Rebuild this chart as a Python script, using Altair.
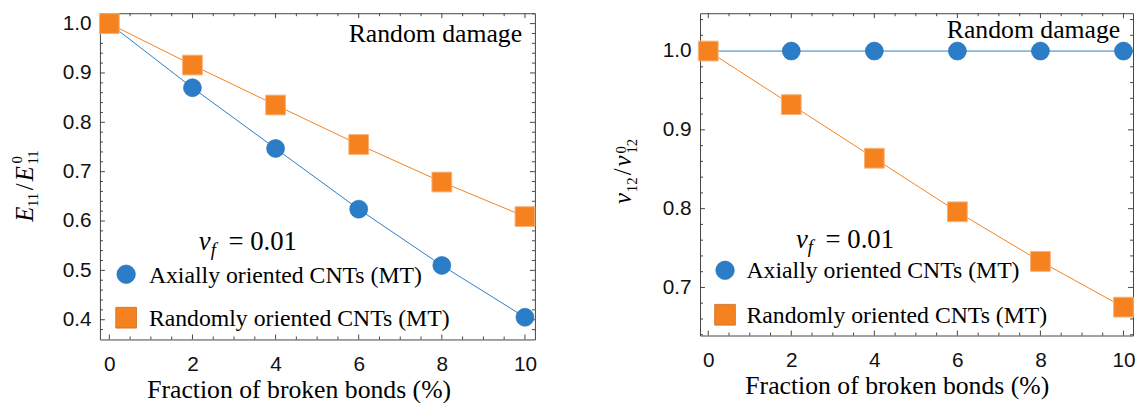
import altair as alt
import pandas as pd

# ---------------- data ----------------
fraction = [0, 2, 4, 6, 8, 10]
series_names = ["Axially oriented CNTs (MT)", "Randomly oriented CNTs (MT)"]

e_axial = [1.0, 0.870, 0.747, 0.624, 0.510, 0.405]
e_random = [1.0, 0.916, 0.835, 0.755, 0.679, 0.609]

nu_axial = [1.0, 1.0, 1.0, 1.0, 1.0, 1.0]
nu_random = [1.0, 0.932, 0.864, 0.796, 0.733, 0.675]

x_major = [0, 2, 4, 6, 8, 10]
x_minor = [0.5, 1, 1.5, 2.5, 3, 3.5, 4.5, 5, 5.5, 6.5, 7, 7.5, 8.5, 9, 9.5]
left_y_major = [0.4, 0.5, 0.6, 0.7, 0.8, 0.9, 1.0]
left_y_minor = [0.38, 0.42, 0.44, 0.46, 0.48, 0.52, 0.54, 0.56, 0.58, 0.62, 0.64,
                0.66, 0.68, 0.72, 0.74, 0.76, 0.78, 0.82, 0.84, 0.86, 0.88, 0.92,
                0.94, 0.96, 0.98, 1.02]
right_y_major = [0.7, 0.8, 0.9, 1.0]
right_y_minor = [0.64, 0.66, 0.68, 0.72, 0.74, 0.76, 0.78, 0.82, 0.84, 0.86, 0.88,
                 0.92, 0.94, 0.96, 0.98, 1.02, 1.04]

x_title = "Fraction of broken bonds (%)"
annot = "Random damage"

BLUE = "#2a7dc6"
ORANGE = "#f5821f"
FRAME = "#444444"
SERIF = "Liberation Serif"
SANS = "Liberation Sans"


def panel(axial, random, cfg):
    w, h = cfg["w"], cfg["h"]
    df = pd.DataFrame({
        "x": fraction + fraction,
        "y": axial + random,
        "s": [series_names[0]] * 6 + [series_names[1]] * 6,
    })
    xs = alt.Scale(domain=cfg["xdom"], nice=False, zero=False)
    ys = alt.Scale(domain=cfg["ydom"], nice=False, zero=False)
    xaxis = alt.Axis(values=x_major, format="d", labelFont=SANS, labelFontSize=21,
                     labelColor="#111111", labelPadding=14, ticks=False, tickSize=0,
                     domain=False, grid=False, title=x_title, titleFont=SERIF,
                     titleFontSize=26, titleFontWeight="normal", titleColor="#000000",
                     titleX=cfg["titleX"], titleY=59, titleBaseline="alphabetic",
                     titleAnchor="middle", titleAlign="center")
    yaxis = alt.Axis(values=cfg["ymajor"], format=".1f", labelFont=SANS, labelFontSize=21,
                     labelColor="#111111", labelPadding=9, ticks=False, tickSize=0,
                     domain=False, grid=False, title=None)
    xenc = alt.X("x:Q", scale=xs, axis=xaxis)
    yenc = alt.Y("y:Q", scale=ys, axis=yaxis)
    color = alt.Color("s:N", scale=alt.Scale(domain=series_names, range=[BLUE, ORANGE]),
                      legend=None)

    base = alt.Chart(df)
    lines = base.mark_line(strokeWidth=1).encode(x=xenc, y=yenc, color=color)
    circles = base.transform_filter(alt.datum.s == series_names[0]).mark_point(
        shape="circle", filled=True, size=330, opacity=1, stroke="#1f6aad", strokeWidth=0.6
    ).encode(x=xenc, y=yenc, color=color)
    squares = base.transform_filter(alt.datum.s == series_names[1]).mark_point(
        shape="square", filled=True, size=400, opacity=1, stroke="#f7b27a", strokeWidth=1
    ).encode(x=xenc, y=yenc, color=color)

    layers = [lines]

    # inward frame ticks on all four sides
    def yticks(vals, length):
        d = pd.DataFrame({"y": vals})
        c = alt.Chart(d)
        return [
            c.mark_rule(color=FRAME, strokeWidth=1).encode(y=yenc, x=alt.value(0), x2=alt.value(length)),
            c.mark_rule(color=FRAME, strokeWidth=1).encode(y=yenc, x=alt.value(w), x2=alt.value(w - length)),
        ]

    def xticks(vals, length):
        d = pd.DataFrame({"x": vals})
        c = alt.Chart(d)
        return [
            c.mark_rule(color=FRAME, strokeWidth=1).encode(x=xenc, y=alt.value(h), y2=alt.value(h - length)),
            c.mark_rule(color=FRAME, strokeWidth=1).encode(x=xenc, y=alt.value(0), y2=alt.value(length)),
        ]

    layers += yticks(cfg["ymajor"], 5) + yticks(cfg["yminor"], 3)
    layers += xticks(x_major, 5) + xticks(x_minor, 3)
    layers += [circles, squares]

    one = alt.Chart(pd.DataFrame({"k": [0]}))

    def txt(text, x, y, size, style="normal", align="left", angle=0, dx=0, dy=0):
        kw = dict(text=text, font=SERIF, fontSize=size, fontStyle=style, align=align,
                  baseline="alphabetic", color="#000000", dx=dx, dy=dy)
        if angle:
            kw["angle"] = angle
        return one.mark_text(**kw).encode(x=alt.value(x), y=alt.value(y))

    # "Random damage"
    layers.append(txt(annot, cfg["rd"][0], cfg["rd"][1], 26, align="right"))
    # nu_f = 0.01
    nx, ny = cfg["nu"]
    layers.append(txt("ν", nx, ny, 27, style="italic"))
    layers.append(txt("f", nx, ny, 19, style="italic", dx=12, dy=6))
    layers.append(txt("= 0.01", nx, ny, 27, dx=30))
    # legend
    lc, ls, lt = cfg["leg"]
    layers.append(one.mark_point(shape="circle", filled=True, size=350, opacity=1, color=BLUE,
                                 stroke="#1f6aad", strokeWidth=0.6)
                  .encode(x=alt.value(lc[0]), y=alt.value(lc[1])))
    layers.append(one.mark_point(shape="square", filled=True, size=440, opacity=1, color=ORANGE,
                                 stroke="#c8702a", strokeWidth=0.8)
                  .encode(x=alt.value(ls[0]), y=alt.value(ls[1])))
    layers.append(txt(series_names[0], lt[0], lt[1], 24))
    layers.append(txt(series_names[1], lt[0], lt[2], 24))
    # rotated y title, built from pieces (sub/superscripts)
    tx, ty = cfg["ytitle"]
    for (t, size, style, dx, dy) in cfg["ypieces"]:
        layers.append(txt(t, tx, ty, size, style=style, angle=270, dx=dx, dy=dy))

    return alt.layer(*layers).properties(width=w, height=h)


left_cfg = dict(
    w=440, h=330, xdom=[-0.226, 10.24], ydom=[0.36, 1.021],
    ymajor=left_y_major, yminor=left_y_minor, titleX=201,
    rd=(427, 29), nu=(100, 240),
    leg=((26.5, 264), (26.5, 308), (49.5, 273, 316)),
    ytitle=(-67.5, 211),
    ypieces=[("E", 25, "italic", 0, 0), ("11", 15, "normal", 15, 5),
             ("/", 25, "normal", 32, 0), ("E", 25, "italic", 41, 0),
             ("0", 15, "normal", 59, -11), ("11", 15, "normal", 58, 5)],
)
right_cfg = dict(
    w=438, h=326, xdom=[-0.198, 10.23], ydom=[0.639, 1.048],
    ymajor=right_y_major, yminor=right_y_minor, titleX=199,
    rd=(425, 25), nu=(97, 237),
    leg=((25.3, 260), (25.3, 305), (47, 268, 313)),
    ytitle=(-69.7, 193),
    ypieces=[("ν", 25, "italic", 0, 0), ("12", 15, "normal", 12, 5.5),
             ("/", 25, "normal", 29, 0), ("ν", 25, "italic", 38, 0),
             ("0", 15, "normal", 51, -5), ("12", 15, "normal", 51, 6)],
)

left = panel(e_axial, e_random, left_cfg)
right = panel(nu_axial, nu_random, right_cfg)

chart = alt.hconcat(left, right, spacing=73).properties(
    padding={"left": 2, "top": 0, "right": 0, "bottom": 0}
).configure_view(stroke=FRAME, strokeWidth=1)

chart.save("out.html", embed_options={"renderer": "svg", "actions": False})
